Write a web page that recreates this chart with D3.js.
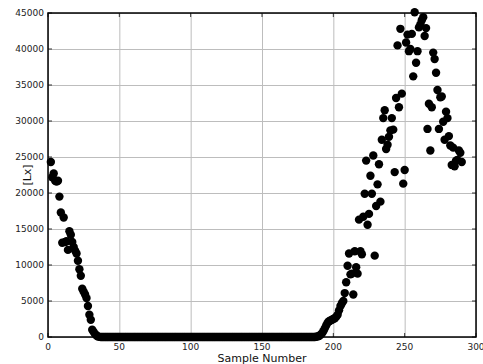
<!DOCTYPE html>
<html>
<head>
<meta charset="utf-8">
<script src="https://cdn.jsdelivr.net/npm/d3@7"></script>
<style>
  body { margin: 0; background: #fff; }
  text { font-family: "DejaVu Sans", sans-serif; }
</style>
</head>
<body>
<svg id="chart" width="483" height="364"></svg>
<script>
// samples start at this number, one value per sample
var firstSample = 2;
var lux = [
  24300, 22200, 22700, 21700, 21600, 21700, 19500, 17300, 13100, 16600,
  13200, 13300, 12100, 14700, 14200, 13200, 12500, 12000, 11600, 10600,
  9400, 8500, 6700, 6300, 5900, 5400, 4300, 3100, 2400, 1000,
  700, 400, 200, 80, 20,
  // night
  0,0,0,0,0,0,0,0,0,0, 0,0,0,0,0,0,0,0,0,0,
  0,0,0,0,0,0,0,0,0,0, 0,0,0,0,0,0,0,0,0,0,
  0,0,0,0,0,0,0,0,0,0, 0,0,0,0,0,0,0,0,0,0,
  0,0,0,0,0,0,0,0,0,0, 0,0,0,0,0,0,0,0,0,0,
  0,0,0,0,0,0,0,0,0,0, 0,0,0,0,0,0,0,0,0,0,
  0,0,0,0,0,0,0,0,0,0, 0,0,0,0,0,0,0,0,0,0,
  0,0,0,0,0,0,0,0,0,0, 0,0,0,0,0,0,0,0,0,0,
  0,0,0,0,0,0,0,0,0,0, 0,
  // morning (188..)
  30, 80, 150, 300, 500, 800, 1200, 1600, 2000, 2200,
  2300, 2400, 2500, 2600, 2800, 3100, 3700, 4300, 4700, 5000,
  6100, 7600, 9900, 11600, 8700, 8800, 5900, 11900, 9700, 8800,
  // day (218..)
  16300, 11900, 11500, 16700, 19900, 24500, 15600, 17100, 22400, 19900,
  25200, 11300, 18200, 21200, 24000, 18800, 27400, 30400, 31500, 26100,
  26700, 27800, 28700, 30400, 28800, 22900, 33200, 40500, 31900, 42800,
  33800, 21300, 23200, 40900, 42000, 39700, 40000, 42100, 36200, 45100,
  38100, 39700, 43000, 43400, 44000, 44400, 41800, 42900, 28900, 32400,
  25900, 31900, 39500, 38600, 36700, 34300, 28900, 33300, 33400, 29900,
  27400, 31300, 30400, 27900, 26600, 23900, 26300, 23700, 24500, 24600,
  25900, 25600, 24300
];
var xTicks = [0, 50, 100, 150, 200, 250, 300];
var yTicks = [0, 5000, 10000, 15000, 20000, 25000, 30000, 35000, 40000, 45000];

var points = lux.map(function(v, i) { return { n: i + firstSample, v: v }; });

var plot = { left: 48, right: 476, top: 13, bottom: 337 };
var svg = d3.select('#chart');

var x = d3.scaleLinear().domain([0, 300]).range([plot.left, plot.right]);
var y = d3.scaleLinear().domain([0, 45000]).range([plot.bottom, plot.top]);

// grid
svg.append('g')
  .attr('transform', 'translate(0,' + plot.bottom + ')')
  .call(d3.axisBottom(x).tickValues(xTicks).tickSize(-(plot.bottom - plot.top)).tickFormat(''));
svg.append('g')
  .attr('transform', 'translate(' + plot.left + ',0)')
  .call(d3.axisLeft(y).tickValues(yTicks).tickSize(-(plot.right - plot.left)).tickFormat(''));
svg.selectAll('.domain').remove();
svg.selectAll('.tick line').attr('stroke', '#bdbdbd').attr('stroke-width', 1);

// small inside ticks on all four sides
var tk = 4;
svg.append('g').selectAll('line').data(xTicks).enter().append('line')
  .attr('x1', function(d) { return x(d); }).attr('x2', function(d) { return x(d); })
  .attr('y1', plot.top).attr('y2', plot.top + tk).attr('stroke', '#333');
svg.append('g').selectAll('line').data(xTicks).enter().append('line')
  .attr('x1', function(d) { return x(d); }).attr('x2', function(d) { return x(d); })
  .attr('y1', plot.bottom).attr('y2', plot.bottom - tk).attr('stroke', '#333');
svg.append('g').selectAll('line').data(yTicks).enter().append('line')
  .attr('y1', function(d) { return y(d); }).attr('y2', function(d) { return y(d); })
  .attr('x1', plot.right).attr('x2', plot.right - tk).attr('stroke', '#333');
svg.append('g').selectAll('line').data(yTicks).enter().append('line')
  .attr('y1', function(d) { return y(d); }).attr('y2', function(d) { return y(d); })
  .attr('x1', plot.left).attr('x2', plot.left + tk).attr('stroke', '#333');

// tick labels
svg.append('g').selectAll('text').data(xTicks).enter().append('text')
  .attr('x', function(d) { return x(d); }).attr('y', plot.bottom + 13)
  .attr('text-anchor', 'middle').attr('font-size', 9).attr('fill', '#222')
  .text(function(d) { return d; });
svg.append('g').selectAll('text').data(yTicks).enter().append('text')
  .attr('x', plot.left - 4).attr('y', function(d) { return y(d) + 3; })
  .attr('text-anchor', 'end').attr('font-size', 9).attr('fill', '#222')
  .text(function(d) { return d; });

// frame
svg.append('rect')
  .attr('x', plot.left).attr('y', plot.top)
  .attr('width', plot.right - plot.left).attr('height', plot.bottom - plot.top)
  .attr('fill', 'none').attr('stroke', '#000').attr('stroke-width', 1.5);

// points
svg.append('g').selectAll('circle').data(points).enter().append('circle')
  .attr('cx', function(d) { return x(d.n); })
  .attr('cy', function(d) { return y(d.v); })
  .attr('r', 4.2)
  .attr('fill', '#000');

// axis titles
svg.append('text')
  .attr('x', (plot.left + plot.right) / 2).attr('y', 362)
  .attr('text-anchor', 'middle').attr('font-size', 11).attr('fill', '#111')
  .text('Sample Number');
svg.append('text')
  .attr('transform', 'translate(31,' + ((plot.top + plot.bottom) / 2) + ') rotate(-90)')
  .attr('text-anchor', 'middle').attr('font-size', 11).attr('fill', '#111')
  .text('[Lx]');
</script>
</body>
</html>
